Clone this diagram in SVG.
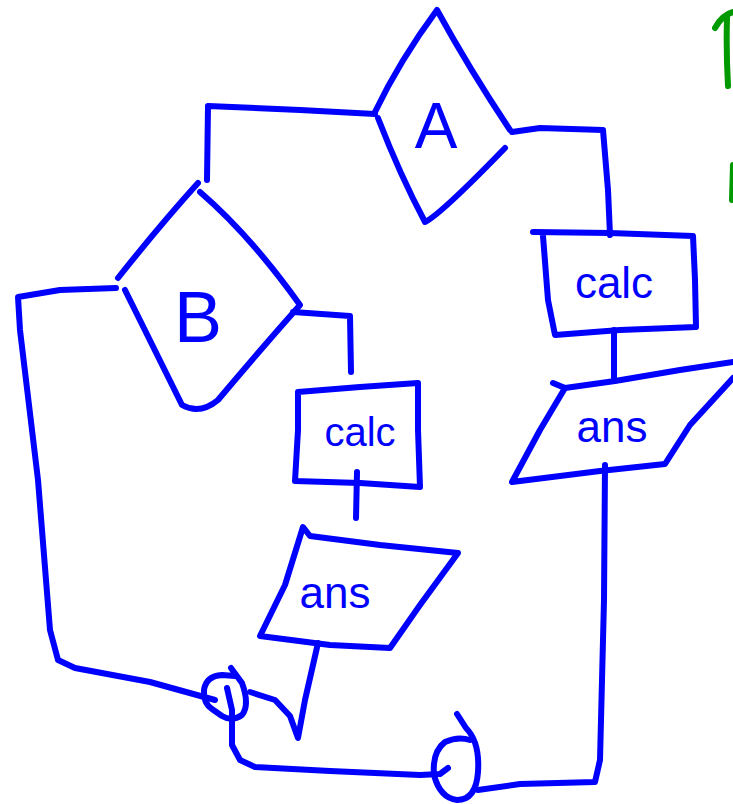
<svg xmlns="http://www.w3.org/2000/svg" width="733" height="804" viewBox="0 0 733 804">
<style>
.s{fill:none;stroke:#0000ff;stroke-width:6;stroke-linecap:round;stroke-linejoin:round}
.g{fill:none;stroke:#009900;stroke-width:6;stroke-linecap:round;stroke-linejoin:round}
.t{fill:#0000ff;font-family:"Liberation Sans",sans-serif;text-anchor:middle}
</style>
<rect width="733" height="804" fill="#fff"/>
<g id="connectors">
<path class="s" d="M375,114 L300,110 L208,106 L207,180"/>
<path class="s" d="M512,132 L540,128 L603,130 L608,190 L610,235"/>
<path class="s" d="M116,288 L60,290 L18,297 L20,330 L38,480 L50,630 L58,660 L75,668 L150,682 L215,700"/>
<path class="s" d="M293,312 L350,316 L351,372"/>
<path class="s" d="M357,472 L356,518"/>
<path class="s" d="M614,330 L614,378"/>
<path class="s" d="M318,643 L305,700 L298,738 L290,716 L275,700 L250,692"/>
<path class="s" d="M227,688 L232,710 L232,745 L240,760 L255,767 L330,771 L420,775 L440,774 L448,768"/>
<path class="s" d="M478,790 L520,784 L595,782 L600,760 L604,600 L605,465"/>
</g>
<g id="diamondA">
<path class="s" d="M375,112 Q400,60 437,10 Q470,70 510,130"/>
<path class="s" d="M378,118 Q400,175 425,222 Q440,215 505,148"/>
<text class="t" x="436" y="148" font-size="64">A</text>
</g>
<g id="diamondB">
<path class="s" d="M198,183 Q160,225 118,278"/>
<path class="s" d="M125,290 Q155,350 182,405 Q200,415 218,400 Q260,350 300,305 Q250,235 200,192"/>
<text class="t" x="198" y="342" font-size="72">B</text>
</g>
<g id="calc1">
<path class="s" d="M298,392 L360,387 L418,383 L418,430 L420,487 L360,483 L295,481 L298,430 Z"/>
<text class="t" x="360" y="446" font-size="40">calc</text>
</g>
<g id="ans1">
<path class="s" d="M303,527 L310,536 L380,545 L458,553 L420,605 L390,648 L330,645 L260,636 L285,585 Z"/>
<text class="t" x="335" y="608" font-size="44">ans</text>
</g>
<g id="calc2">
<path class="s" d="M533,232 L610,233 L693,236 L695,280 L696,327 L620,330 L555,335 L548,300 L543,236"/>
<text class="t" x="614" y="298" font-size="44">calc</text>
</g>
<g id="ans2">
<path class="s" d="M553,383 L565,388 L615,381 L680,370 L733,362"/>
<path class="s" d="M565,388 L540,430 L512,482 L560,476 L600,471 L665,464 L690,425 L733,378"/>
<text class="t" x="612" y="442" font-size="44">ans</text>
</g>
<g id="circle1">
<path class="s" d="M231,668 L242,683 Q250,705 242,715 Q232,722 222,716 L212,709 Q203,703 204,690 Q206,676 222,675 L235,676"/>
</g>
<g id="circle2">
<path class="s" d="M457,714 L466,728 Q480,742 478,772 Q476,800 457,800 Q440,798 434,775 Q432,752 445,742 Q458,736 470,740"/>
</g>
<g id="green">
<path class="g" d="M715,28 Q722,15 733,12 M727,18 Q726,50 728,86"/>
<path class="g" d="M733,165 L732,200"/>
</g>
</svg>
